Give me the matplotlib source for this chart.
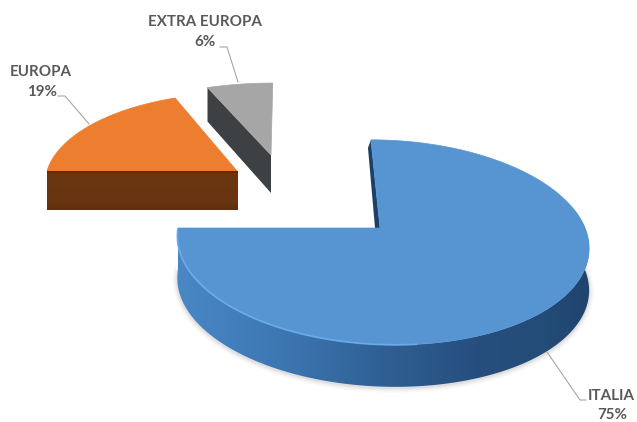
#!/usr/bin/python3

import matplotlib as mpl
import matplotlib.pyplot as plt
from matplotlib.colors import LinearSegmentedColormap, to_rgb
from matplotlib.patches import Polygon
import numpy as np

labels = ['ITALIA', 'EUROPA', 'EXTRA EUROPA']
shares = [75, 19, 6]

plt.rcParams['font.family'] = ['Lato', 'DejaVu Sans']

fig = plt.figure(figsize=(6.37, 4.22), dpi=100)
ax = fig.add_axes([0, 0, 1, 1])
ax.axis('off')

# slice angles, clockwise from twelve o'clock
ends = np.cumsum(shares) / np.sum(shares) * 360.0
starts = ends - np.array(shares) / np.sum(shares) * 360.0

TILT = 0.14


def rim_point(t, cx, cy, rx, ry, skew):
    # perspective projection of the unit circle, far side is shorter
    a = np.radians(t)
    u, v = np.sin(a), np.cos(a)
    w = 1 + TILT * v
    return cx + (rx * u + skew * v) / w, cy - ry * v / w


def arc(t0, t1, geom, n=200):
    ts = np.linspace(t0, t1, n)
    x, y = rim_point(ts, *geom)
    return np.column_stack([x, y])


def top_face(t0, t1, geom, apex, color):
    pts = np.vstack([[apex], arc(t0, t1, geom)])
    ax.fill(pts[:, 0], pts[:, 1], color=color, lw=0.5)


# Italia
geom_it = (381.5, 228, 203.5, 100.5, -12)
apex_it = (380, 228)
depth_it = 42
pts_low = arc(80, 270, geom_it) + [0, depth_it]
for grow, alpha in zip([7, 5, 3, 1.5], [0.03, 0.04, 0.05, 0.07]):
    ax.plot(pts_low[:, 0], pts_low[:, 1] + 1, color='#555555', lw=grow, alpha=alpha,
            solid_capstyle='round', zorder=0)

# outer wall, shaded from left to right
wall_cmap = LinearSegmentedColormap.from_list('wall', [
    (0.0, '#4a88c6'), (0.25, '#3d78b4'), (0.5, '#2f6094'),
    (0.72, '#264f7e'), (0.88, '#234c78'), (1.0, '#1f436c')])
upper = arc(270, 78, geom_it)
wall = Polygon(np.vstack([upper, (upper + [0, depth_it])[::-1]]), closed=True,
               facecolor='none', edgecolor='none', transform=ax.transData)
ax.add_patch(wall)
img = ax.imshow(np.linspace(0, 1, 256).reshape(1, -1), cmap=wall_cmap, aspect='auto',
                extent=(170, 595, 400, 200), zorder=1)
img.set_clip_path(wall)

top_x, top_y = rim_point(starts[0], *geom_it)
ax.fill([top_x, apex_it[0], apex_it[0] - 5, top_x - 3],
        [top_y, apex_it[1], apex_it[1], top_y + 8], color='#1f4066', lw=0, zorder=2)
pts = np.vstack([[apex_it], arc(starts[0], ends[0], geom_it)])
ax.fill(pts[:, 0], pts[:, 1], color='#5795d2', lw=0.5, zorder=2)

edge = arc(268, 175, geom_it)
ax.plot(edge[:, 0], edge[:, 1], color='#6fb0ee', lw=1.3, alpha=0.8, zorder=3)

# Europa
geom_eu = (237, 171, 190, 88.7, 0)
apex_eu = (237, 171)
depth_eu = 39
left_x, left_y = rim_point(starts[1], *geom_eu)
front_cmap = LinearSegmentedColormap.from_list('front', [
    (0.0, '#57290b'), (0.08, '#6b3611'), (0.8, '#693511'), (1.0, '#5f2f0f')])
ax.imshow(np.linspace(0, 1, 64).reshape(-1, 1), cmap=front_cmap, aspect='auto',
          extent=(left_x, apex_eu[0] + 1, left_y + depth_eu, left_y), zorder=2)
top_face(starts[1], ends[1], geom_eu, apex_eu, '#ee7e2f')

# Extra Europa
geom_ex = (271, 155, 200, 82, 2)
apex_ex = (271, 155)
depth_ex = 38
lx, ly = rim_point(starts[2], *geom_ex)
ax.fill([lx, apex_ex[0], apex_ex[0], lx],
        [ly, apex_ex[1], apex_ex[1] + depth_ex, ly + depth_ex - 4], color='#3e4144', lw=0)
top_face(starts[2], ends[2], geom_ex, apex_ex, '#a6a6a6')

# leader lines
leaders = [
    ([547, 580, 586], [352, 400, 400]),
    ([58, 65, 89], [96, 96, 124]),
    ([220, 227, 238], [47, 47, 82]),
]
for xs, ys in leaders:
    ax.plot(xs, ys, color='#a6a6a6', lw=0.8)

# data labels
label_pos = [(611, 396, 612, 415), (41, 72, 42, 92), (205, 22, 205, 42)]
for name, val, (x1, y1, x2, y2) in zip(labels, shares, label_pos):
    ax.text(x1, y1, name, ha='center', va='center', fontsize=10.9, fontweight='bold', color='#595959')
    ax.text(x2, y2, '{}%'.format(val), ha='center', va='center', fontsize=10.9, fontweight='bold', color='#595959')

ax.set_xlim(0, 637)
ax.set_ylim(422, 0)

fig.savefig('out.png', dpi=100)
